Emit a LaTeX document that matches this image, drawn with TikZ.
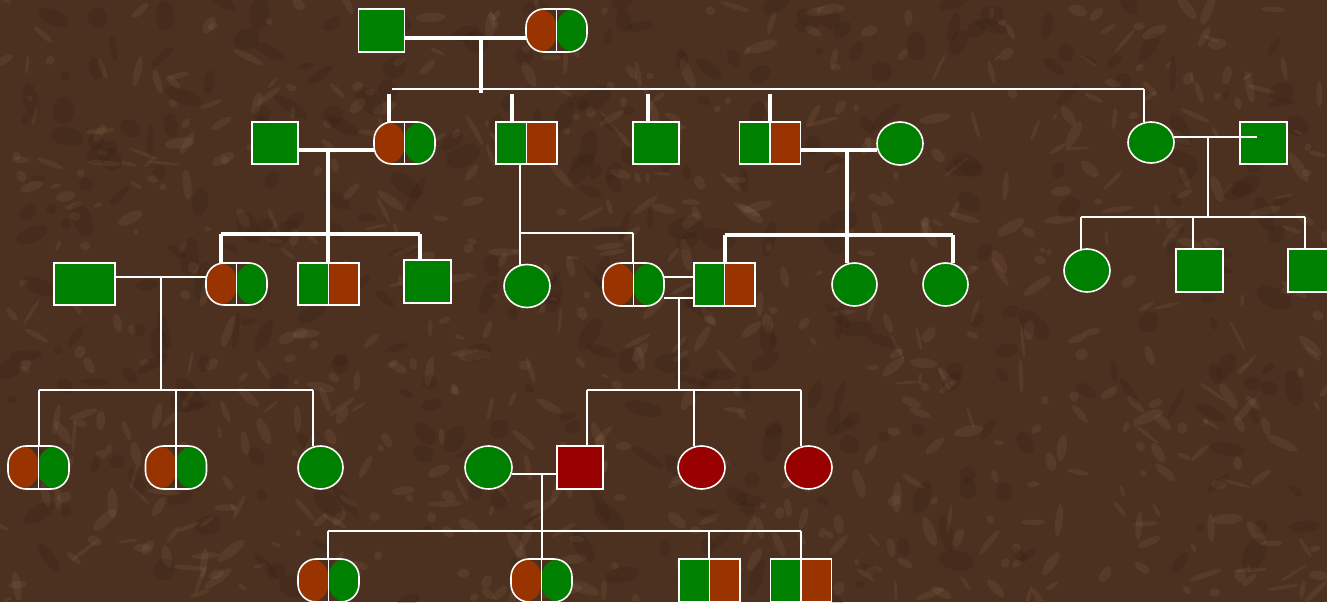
\documentclass[tikz,border=0pt]{standalone}
\usetikzlibrary{shapes.geometric}
\definecolor{pgreen}{HTML}{008000}
\definecolor{pbrown}{HTML}{993300}
\definecolor{pred}{HTML}{990000}
\definecolor{bgbrown}{HTML}{4C3120}
\definecolor{bglight}{HTML}{A58462}
\definecolor{bgdark}{HTML}{2E1A10}
\tikzset{
  sym/.style={draw=white, line width=1.6pt, inner sep=0pt, outer sep=0pt},
  sqbox/.style={sym, rectangle, fill=pgreen, minimum width=46pt, minimum height=42pt},
  redsq/.style={sqbox, fill=pred},
  widebox/.style={sqbox, minimum width=61pt},
  circ/.style={sym, ellipse, fill=pgreen, minimum width=46pt, minimum height=43pt},
  redcirc/.style={circ, fill=pred},
  splitsq/.style={sym, rectangle, minimum width=61pt, minimum height=42pt,
    path picture={
      \fill[pgreen] (path picture bounding box.south west) rectangle (path picture bounding box.north);
      \fill[pbrown] (path picture bounding box.south) rectangle (path picture bounding box.north east);
      \draw[white, line width=1.6pt] (path picture bounding box.south) -- (path picture bounding box.north);}},
  stad/.style={sym, rectangle, rounded corners=18pt, minimum width=61pt, minimum height=42pt,
    path picture={
      \fill[pbrown] (path picture bounding box.south west) rectangle (path picture bounding box.north);
      \fill[pgreen] (path picture bounding box.south) rectangle (path picture bounding box.north east);
      \draw[white, line width=1.6pt] (path picture bounding box.south) -- (path picture bounding box.north);}},
  conn/.style={draw=white, line width=2pt},
  boldconn/.style={draw=white, line width=3.6pt},
}
\begin{document}
\begin{tikzpicture}[x=1pt,y=-1pt]
\clip (0,0) rectangle (1327,602);
\fill[bgbrown] (0,0) rectangle (1327,602);
% fine marble texture
\pgfmathsetseed{11}
\foreach \i in {1,...,700}{
  \pgfmathsetmacro{\px}{rnd*1327}
  \pgfmathsetmacro{\py}{rnd*602}
  \pgfmathsetmacro{\rx}{3+rnd*14}
  \pgfmathsetmacro{\ry}{1.5+rnd*4}
  \pgfmathsetmacro{\ang}{rnd*180}
  \fill[bglight, opacity=0.13, rotate around={\ang:(\px,\py)}] (\px,\py) ellipse [x radius=\rx, y radius=\ry];
}
\foreach \i in {1,...,350}{
  \pgfmathsetmacro{\px}{rnd*1327}
  \pgfmathsetmacro{\py}{rnd*602}
  \pgfmathsetmacro{\rx}{4+rnd*16}
  \pgfmathsetmacro{\ry}{3+rnd*8}
  \pgfmathsetmacro{\ang}{rnd*180}
  \fill[bgdark, opacity=0.18, rotate around={\ang:(\px,\py)}] (\px,\py) ellipse [x radius=\rx, y radius=\ry];
}

% ---------- generation 0
\node[sqbox, minimum height=43pt] (g0m) at (381.5,30.5) {};
\node[stad, minimum height=43pt] (g0f) at (556.5,30.5) {};
% ---------- generation 1
\node[sqbox] (s1) at (275,143) {};
\node[stad] (d1) at (404.5,143) {};
\node[splitsq] (q1) at (526.5,143) {};
\node[sqbox] (s2) at (656,143) {};
\node[splitsq] (q2) at (770,143) {};
\node[circ] (c1) at (900,143.5) {};
\node[circ, minimum height=41pt] (c2) at (1151,142.5) {};
\node[sqbox, minimum width=47pt] (s3) at (1263.5,143) {};
% ---------- generation 2
\node[widebox] (r1) at (84.5,284) {};
\node[stad] (d2) at (236.5,284) {};
\node[splitsq] (q3) at (328.5,284) {};
\node[sqbox, minimum width=47pt, minimum height=43pt] (s4) at (427.5,281.5) {};
\node[circ] (c3) at (527,286) {};
\node[stad, minimum height=43pt] (d3) at (633.5,284.5) {};
\node[splitsq, minimum height=43pt] (q4) at (724.5,284.5) {};
\node[circ, minimum width=45pt] (c4) at (854.5,284.5) {};
\node[circ, minimum width=45pt] (c5) at (945.5,284.5) {};
\node[circ] (c6) at (1087,270.5) {};
\node[sqbox, minimum width=47pt, minimum height=43pt] (s5) at (1199.5,270.5) {};
\node[sqbox, minimum height=43pt] (s6) at (1311,270.5) {};
% ---------- generation 3
\node[stad, minimum height=43pt] (d4) at (38.5,467.5) {};
\node[stad, minimum height=43pt] (d5) at (176,467.5) {};
\node[circ, minimum width=45pt] (c7) at (320.5,467.5) {};
\node[circ, minimum width=47pt] (c8) at (488.5,467.5) {};
\node[redsq, minimum height=43pt] (s7) at (580,467.5) {};
\node[redcirc, minimum width=47pt] (c9) at (701.5,467.5) {};
\node[redcirc, minimum width=47pt] (c10) at (808.5,467.5) {};
% ---------- generation 4
\node[stad, minimum height=43pt] (d6) at (328.5,580.5) {};
\node[stad, minimum height=43pt] (d7) at (541.5,580.5) {};
\node[splitsq, minimum height=43pt] (q5) at (709.5,580.5) {};
\node[splitsq, minimum height=43pt] (q6) at (801,580.5) {};

% ---------- junction coordinates
\coordinate (j0) at (481,38);
\coordinate (j0b) at (481,93);
\coordinate (sl0) at (392,89);
\coordinate (sr0) at (1144,89);
\coordinate (a1) at (389,94);
\coordinate (a2) at (512,94);
\coordinate (a3) at (648,94);
\coordinate (a4) at (770,94);

\coordinate (j1) at (328,150);
\coordinate (k1) at (328,234);
\coordinate (k1l) at (221,234);
\coordinate (k1r) at (420,234);

\coordinate (k2l) at (520,233);
\coordinate (k2r) at (633,233);

\coordinate (j3) at (847,150);
\coordinate (k3) at (847,235);
\coordinate (k3l) at (725,235);
\coordinate (k3r) at (953,235);

\coordinate (j4) at (1208,137);
\coordinate (j4e) at (1257,137);
\coordinate (k4) at (1208,217);
\coordinate (k4l) at (1081,217);
\coordinate (k4m) at (1193,217);
\coordinate (k4r) at (1305,217);

\coordinate (j5) at (161,277);
\coordinate (k5) at (161,390);
\coordinate (k5l) at (39,390);
\coordinate (k5m) at (176,390);
\coordinate (k5r) at (313,390);

\coordinate (j6a) at (679,277);
\coordinate (j6) at (679,298);
\coordinate (k6) at (679,390);
\coordinate (k6l) at (587,390);
\coordinate (k6m) at (694,390);
\coordinate (k6r) at (801,390);

\coordinate (j7) at (542,474);
\coordinate (k7) at (542,531);
\coordinate (k7l) at (328,531);
\coordinate (k7a) at (709,531);
\coordinate (k7r) at (801,531);

% ---------- generation 0 connections
\draw[boldconn] (g0m.east |- j0) -- (g0f.west |- j0);
\draw[boldconn] (j0) -- (j0b);
\draw[conn] (sl0) -- (sr0);
\draw[boldconn] (a1) -- (a1 |- d1.north);
\draw[boldconn] (a2) -- (a2 |- q1.north);
\draw[boldconn] (a3) -- (a3 |- s2.north);
\draw[boldconn] (a4) -- (a4 |- q2.north);
\draw[conn] (sr0) -- (sr0 |- c2.north);

% ---------- generation 1 connections
\draw[boldconn] (s1.east |- j1) -- (d1.west |- j1);
\draw[boldconn] (j1) -- (k1);
\draw[boldconn] (k1l) -- (k1r);
\draw[boldconn] (k1l) -- (k1l |- d2.north);
\draw[boldconn] (k1) -- (k1 |- q3.north);
\draw[boldconn] (k1r) -- (k1r |- s4.north);

\draw[conn] (k2l |- q1.south) -- (k2l) -- (k2r);
\draw[conn] (k2l) -- (k2l |- c3.north);
\draw[conn] (k2r) -- (k2r |- d3.north);

\draw[boldconn] (q2.east |- j3) -- (c1.west |- j3);
\draw[boldconn] (j3) -- (k3);
\draw[boldconn] (k3l) -- (k3r);
\draw[boldconn] (k3l) -- (k3l |- q4.north);
\draw[boldconn] (k3) -- (k3 |- c4.north);
\draw[boldconn] (k3r) -- (k3r |- c5.north);

\draw[conn] (c2.east |- j4) -- (j4e);
\draw[conn] (j4) -- (k4);
\draw[conn] (k4l) -- (k4r);
\draw[conn] (k4l) -- (k4l |- c6.north);
\draw[conn] (k4m) -- (k4m |- s5.north);
\draw[conn] (k4r) -- (k4r |- s6.north);

% ---------- generation 2 connections
\draw[conn] (r1.east |- j5) -- (d2.west |- j5);
\draw[conn] (j5) -- (k5);
\draw[conn] (k5l) -- (k5r);
\draw[conn] (k5l) -- (k5l |- d4.north);
\draw[conn] (k5m) -- (k5m |- d5.north);
\draw[conn] (k5r) -- (k5r |- c7.north);

\draw[conn] (d3.east |- j6a) -- (q4.west |- j6a);
\draw[conn] (d3.east |- j6) -- (q4.west |- j6);
\draw[conn] (j6) -- (k6);
\draw[conn] (k6l) -- (k6r);
\draw[conn] (k6l) -- (k6l |- s7.north);
\draw[conn] (k6m) -- (k6m |- c9.north);
\draw[conn] (k6r) -- (k6r |- c10.north);

% ---------- generation 3 connections
\draw[conn] (c8.east |- j7) -- (s7.west |- j7);
\draw[conn] (j7) -- (k7);
\draw[conn] (k7l) -- (k7r);
\draw[conn] (k7l) -- (k7l |- d6.north);
\draw[conn] (k7) -- (k7 |- d7.north);
\draw[conn] (k7a) -- (k7a |- q5.north);
\draw[conn] (k7r) -- (k7r |- q6.north);
\end{tikzpicture}
\end{document}
